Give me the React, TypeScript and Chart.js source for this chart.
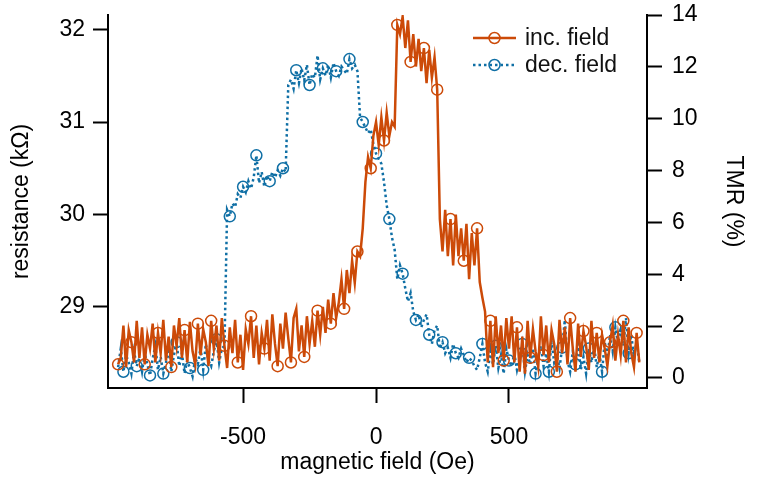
import React, { useEffect, useRef } from 'react';
import { Chart, registerables } from 'chart.js';

Chart.register(...registerables);

// magnetic field (Oe)
const field: number[] = [
  -970, -960, -950, -940, -930, -920, -910, -900, -890, -880,
  -870, -860, -850, -840, -830, -820, -810, -800, -790, -780,
  -770, -760, -750, -740, -730, -720, -710, -700, -690, -680,
  -670, -660, -650, -640, -630, -620, -610, -600, -590, -580,
  -570, -560, -550, -540, -530, -520, -510, -500, -490, -480,
  -470, -460, -450, -440, -430, -420, -410, -400, -390, -380,
  -370, -360, -350, -340, -330, -320, -310, -300, -290, -280,
  -270, -260, -250, -240, -230, -220, -210, -200, -190, -180,
  -170, -160, -150, -140, -130, -120, -110, -100, -90, -80,
  -70, -60, -50, -40, -30, -20, -10, 0, 10, 20,
  30, 40, 50, 60, 70, 80, 90, 100, 110, 120,
  130, 140, 150, 160, 170, 180, 190, 200, 210, 220,
  230, 240, 250, 260, 270, 280, 290, 300, 310, 320,
  330, 340, 350, 360, 370, 380, 390, 400, 410, 420,
  430, 440, 450, 460, 470, 480, 490, 500, 510, 520,
  530, 540, 550, 560, 570, 580, 590, 600, 610, 620,
  630, 640, 650, 660, 670, 680, 690, 700, 710, 720,
  730, 740, 750, 760, 770, 780, 790, 800, 810, 820,
  830, 840, 850, 860, 870, 880, 890, 900, 910, 920,
  930, 940, 950, 960, 970, 980, 990,
];

// resistance (kΩ), increasing field sweep
const incField: number[] = [
  28.38, 28.45, 28.80, 28.35, 28.75, 28.62, 28.40, 28.85, 28.45, 28.78,
  28.38, 28.70, 28.55, 28.82, 28.40, 28.72, 28.50, 28.86, 28.42, 28.68,
  28.35, 28.80, 28.58, 28.88, 28.45, 28.75, 28.40, 28.84, 28.52, 28.38,
  28.82, 28.48, 28.76, 28.62, 28.36, 28.85, 28.55, 28.80, 28.42, 28.88,
  28.58, 28.34, 28.78, 28.50, 28.86, 28.40, 28.70, 28.32, 28.76, 28.60,
  28.90, 28.45, 28.80, 28.38, 28.72, 28.55, 28.86, 28.42, 28.92, 28.60,
  28.36, 28.82, 28.55, 28.94, 28.66, 28.40, 28.88, 28.98, 28.52, 28.80,
  28.46, 28.90, 28.60, 28.85, 28.57, 28.96, 28.70, 29.00, 28.72, 29.08,
  28.82, 29.15, 28.88, 29.05, 29.30, 28.98, 29.40, 29.15, 29.50, 29.26,
  29.60, 29.55, 29.85, 30.35, 30.62, 30.50, 30.85, 31.00, 30.75, 31.05,
  30.80, 31.10, 30.85, 31.00, 30.95, 32.05, 31.95, 32.14, 31.80, 32.10,
  31.65, 31.95, 31.60, 31.90, 31.55, 31.80, 31.42, 31.78, 31.48, 31.70,
  31.35, 29.95, 29.60, 30.05, 29.55, 29.95, 29.45, 30.00, 29.55, 29.85,
  29.50, 29.90, 29.30, 29.80, 29.45, 29.85, 29.27, 29.10, 28.95, 28.40,
  28.85, 28.35, 28.90, 28.50, 28.80, 28.42, 28.88, 28.55, 28.90, 28.40,
  28.78, 28.30, 28.68, 28.28, 28.85, 28.45, 28.76, 28.52, 28.35, 28.90,
  28.48, 28.80, 28.40, 28.75, 28.60, 28.30, 28.86, 28.50, 28.78, 28.38,
  28.88, 28.55, 28.30, 28.82, 28.46, 28.74, 28.58, 28.32, 28.85, 28.45,
  28.72, 28.40, 28.70, 28.55, 28.36, 28.62, 28.80, 28.42, 28.70, 28.48,
  28.85, 28.40, 28.78, 28.50, 28.35, 28.72, 28.40,
];

// resistance (kΩ), decreasing field sweep
const decField: number[] = [
  28.35, 28.55, 28.30, 28.48, 28.40, 28.28, 28.52, 28.36, 28.45, 28.30,
  28.50, 28.38, 28.26, 28.44, 28.58, 28.32, 28.46, 28.28, 28.40, 28.55,
  28.30, 28.48, 28.62, 28.36, 28.50, 28.28, 28.42, 28.34, 28.25, 28.45,
  28.38, 28.56, 28.32, 28.60, 28.42, 28.36, 28.52, 28.65, 28.40, 28.55,
  28.58, 30.05, 29.98, 30.12, 30.08, 30.22, 30.18, 30.30, 30.24, 30.36,
  30.28, 30.40, 30.64, 30.34, 30.46, 30.30, 30.42, 30.36, 30.46, 30.40,
  30.48, 30.42, 30.50, 30.46, 31.40, 31.46, 31.36, 31.56, 31.42, 31.58,
  31.45, 31.62, 31.40, 31.52, 31.48, 31.72, 31.46, 31.58, 31.50, 31.62,
  31.48, 31.64, 31.55, 31.50, 31.60, 31.56, 31.52, 31.68, 31.58, 31.62,
  31.55, 31.05, 31.00, 30.94, 30.88, 30.92, 30.76, 30.66, 30.60, 30.55,
  30.35, 30.10, 29.95, 29.75, 29.62, 29.30, 29.45, 29.36, 29.20, 29.06,
  29.15, 28.95, 28.86, 28.92, 28.78, 28.86, 28.92, 28.70, 28.60, 28.75,
  28.80, 28.55, 28.62, 28.50, 28.56, 28.45, 28.60, 28.50, 28.45, 28.55,
  28.48, 28.40, 28.45, 28.42, 28.36, 28.32, 28.45, 28.60, 28.40, 28.30,
  28.52, 28.38, 28.58, 28.34, 28.48, 28.28, 28.55, 28.42, 28.36, 28.50,
  28.32, 28.45, 28.60, 28.30, 28.48, 28.38, 28.55, 28.28, 28.44, 28.58,
  28.36, 28.50, 28.30, 28.62, 28.40, 28.48, 28.34, 28.56, 28.86, 28.42,
  28.30, 28.52, 28.38, 28.60, 28.32, 28.46, 28.28, 28.55, 28.40, 28.58,
  28.35, 28.50, 28.30, 28.62, 28.45, 28.70, 28.52, 28.78, 28.60, 28.75,
  28.58, 28.88, 28.50, 28.70, 28.45, 28.62, 28.40,
];

const seriesLabels = ['inc. field', 'dec. field'];
const xTicks = [-500, 0, 500];
const resistanceTicks = [29, 30, 31, 32];
const tmrTicks = [0, 2, 4, 6, 8, 10, 12, 14];

const FONT = "'Liberation Sans', Arial, Helvetica, sans-serif";
const ORANGE = '#cc4a08';
const BLUE = '#0f6fa5';

export default function App() {
  const ref = useRef<HTMLCanvasElement>(null);

  useEffect(() => {
    if (!ref.current) return;

    const legendPlugin = {
      id: 'insideLegend',
      afterDraw(chart: any) {
        const ctx = chart.ctx as CanvasRenderingContext2D;
        ctx.save();
        chart.data.datasets.forEach((ds: any, i: number) => {
          const y = 38 + i * 27;
          ctx.beginPath();
          ctx.strokeStyle = ds.borderColor;
          ctx.lineWidth = ds.borderWidth;
          ctx.lineCap = 'butt';
          ctx.setLineDash(ds.borderDash || []);
          ctx.moveTo(473, y);
          ctx.lineTo(516, y);
          ctx.stroke();
          ctx.setLineDash([]);
          ctx.lineWidth = 1.5;
          ctx.beginPath();
          ctx.arc(494.5, y, 5.5, 0, Math.PI * 2);
          ctx.stroke();
          ctx.fillStyle = '#111';
          ctx.font = `23px ${FONT}`;
          ctx.textBaseline = 'middle';
          ctx.textAlign = 'left';
          ctx.fillText(ds.label, 525, y + 1);
        });
        ctx.restore();
      },
    };

    const axisCommon = {
      border: { display: true, color: '#000', width: 2 },
      grid: {
        display: true,
        drawOnChartArea: false,
        drawTicks: true,
        tickLength: 15,
        tickWidth: 2,
        tickColor: '#000',
      },
    };

    const zeroPad = (s: any) => {
      s.paddingTop = 0;
      s.paddingBottom = 0;
      s.paddingLeft = 0;
      s.paddingRight = 0;
    };

    const chart = new Chart(ref.current, {
      type: 'line',
      data: {
        datasets: [
          {
            label: seriesLabels[0],
            data: field.map((x, i) => ({ x, y: incField[i] })),
            borderColor: ORANGE,
            borderWidth: 2.5,
            tension: 0,
            pointRadius: (c: any) => (c.dataIndex % 5 === 0 ? 5.5 : 0),
            pointHoverRadius: 0,
            pointBorderWidth: 1.5,
            pointBorderColor: ORANGE,
            pointBackgroundColor: 'rgba(255,255,255,0)',
            xAxisID: 'x',
            yAxisID: 'y',
          },
          {
            label: seriesLabels[1],
            data: field.map((x, i) => ({ x, y: decField[i] })),
            borderColor: BLUE,
            borderWidth: 2.5,
            borderDash: [2.5, 3],
            tension: 0,
            pointRadius: (c: any) => (c.dataIndex % 5 === 2 ? 5.5 : 0),
            pointHoverRadius: 0,
            pointBorderWidth: 1.5,
            pointBorderColor: BLUE,
            pointBackgroundColor: 'rgba(255,255,255,0)',
            xAxisID: 'x',
            yAxisID: 'y',
          },
        ],
      },
      options: {
        responsive: false,
        animation: false,
        events: [],
        layout: { padding: { top: 15, left: 0, right: 0, bottom: 0 } },
        plugins: {
          legend: { display: false },
          tooltip: { enabled: false },
        },
        scales: {
          x: {
            type: 'linear',
            position: 'bottom',
            min: -1008,
            max: 1019,
            afterBuildTicks: (s: any) => {
              s.ticks = xTicks.map((v) => ({ value: v }));
            },
            afterFit: (s: any) => {
              s.height = 90;
              zeroPad(s);
            },
            ...axisCommon,
            ticks: {
              color: '#000',
              font: { family: FONT, size: 23 },
              padding: 21,
              maxRotation: 0,
              autoSkip: false,
              callback: (v: any) => String(v),
            },
            title: {
              display: true,
              text: 'magnetic field (Oe)',
              color: '#000',
              font: { family: FONT, size: 23 },
              padding: { top: 0, bottom: 2 },
            },
          },
          y: {
            type: 'linear',
            position: 'left',
            min: 28.124,
            max: 32.157,
            afterBuildTicks: (s: any) => {
              s.ticks = resistanceTicks.map((v) => ({ value: v }));
            },
            afterFit: (s: any) => {
              s.width = 108;
              zeroPad(s);
            },
            ...axisCommon,
            ticks: {
              color: '#000',
              font: { family: FONT, size: 23 },
              padding: 8,
              callback: (v: any) => String(v),
            },
            title: {
              display: true,
              text: 'resistance (kΩ)',
              color: '#000',
              font: { family: FONT, size: 23 },
              padding: { top: 8, bottom: 0 },
            },
          },
          y2: {
            type: 'linear',
            position: 'right',
            display: true,
            min: -0.386,
            max: 14,
            afterBuildTicks: (s: any) => {
              s.ticks = tmrTicks.map((v) => ({ value: v }));
            },
            afterFit: (s: any) => {
              s.width = 111;
              zeroPad(s);
            },
            ...axisCommon,
            ticks: {
              color: '#000',
              font: { family: FONT, size: 23 },
              padding: 10,
              callback: (v: any) => String(v),
            },
            title: {
              display: true,
              text: 'TMR (%)',
              color: '#000',
              font: { family: FONT, size: 23 },
              padding: { top: 11, bottom: 0 },
            },
          },
        },
      },
      plugins: [legendPlugin],
    } as any);

    return () => chart.destroy();
  }, []);

  return (
    <div style={{ position: 'absolute', left: 0, top: 0, width: 758, height: 478, background: '#fff' }}>
      <canvas ref={ref} width={758} height={478} style={{ display: 'block' }} />
    </div>
  );
}
